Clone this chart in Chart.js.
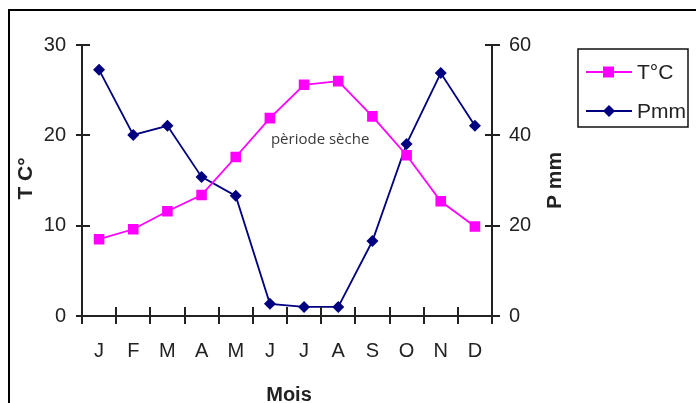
<!DOCTYPE html>
<html><head><meta charset="utf-8">
<script src="https://cdn.jsdelivr.net/npm/chart.js@4/dist/chart.umd.min.js"></script>
<style>html,body{margin:0;padding:0;background:#fff;overflow:hidden}#wrap{width:696px;height:403px;position:relative}</style>
</head><body><div id="wrap"><canvas id="c" width="696" height="403"></canvas></div>
<script>
const months = ['J','F','M','A','M','J','J','A','S','O','N','D'];
const temperature = [8.5, 9.6, 11.6, 13.4, 17.6, 21.9, 25.6, 26.0, 22.1, 17.8, 12.7, 9.9];
const precipitation = [54.5, 40.1, 42.1, 30.8, 26.6, 2.7, 2.0, 2.0, 16.6, 38.1, 53.8, 42.1];
const tempTicks = [0, 10, 20, 30];
const precTicks = [0, 20, 40, 60];
const seriesNames = ['T°C', 'Pmm'];
const axisTitles = {left: 'T C°', right: 'P mm', bottom: 'Mois'};
const note = 'pèriode sèche';

const PINK = '#ff00ff', NAVY = '#000080', INK = '#222222';
const tickFont = {family: 'Arial, "Liberation Sans", sans-serif', size: 20};

const decor = {
  id: 'decor',
  beforeDraw(chart) {
    const ctx = chart.ctx;
    ctx.save(); ctx.fillStyle = '#fff'; ctx.fillRect(0, 0, chart.width, chart.height); ctx.restore();
  },
  afterDraw(chart) {
    const ctx = chart.ctx, xs = chart.scales.x, yl = chart.scales.y, yr = chart.scales.y1;
    const ca = chart.chartArea;
    ctx.save();
    // outer frame
    ctx.strokeStyle = '#000'; ctx.lineWidth = 2;
    ctx.beginPath(); ctx.moveTo(9, 410); ctx.lineTo(9, 10); ctx.lineTo(700, 10); ctx.stroke();
    // tick marks
    ctx.strokeStyle = INK; ctx.lineWidth = 2;
    ctx.beginPath();
    for (let i = 0; i <= months.length; i++) {
      const px = Math.round(xs.getPixelForValue(i - 0.5));
      ctx.moveTo(px, ca.bottom - 9); ctx.lineTo(px, ca.bottom + 8);
    }
    tempTicks.forEach(v => { const py = Math.round(yl.getPixelForValue(v)); ctx.moveTo(ca.left - 6, py); ctx.lineTo(ca.left + 8, py); });
    precTicks.forEach(v => { const py = Math.round(yr.getPixelForValue(v)); ctx.moveTo(ca.right - 7, py); ctx.lineTo(ca.right + 8, py); });
    ctx.stroke();
    // axis titles
    ctx.fillStyle = INK;
    ctx.font = 'bold 21px Arial, "Liberation Sans", sans-serif';
    ctx.textAlign = 'center'; ctx.textBaseline = 'middle';
    const midY = (ca.top + ca.bottom) / 2;
    ctx.save(); ctx.translate(26, midY - 2); ctx.rotate(-Math.PI / 2); ctx.fillText(axisTitles.left, 0, 0); ctx.restore();
    ctx.save(); ctx.translate(555, midY); ctx.rotate(-Math.PI / 2); ctx.fillText(axisTitles.right, 0, 0); ctx.restore();
    ctx.font = 'bold 20px Arial, "Liberation Sans", sans-serif';
    ctx.fillText(axisTitles.bottom, (ca.left + ca.right) / 2 + 2, 395);
    // annotation
    ctx.font = '15px "Open Sans", sans-serif'; ctx.fillStyle = '#3a3a3a';
    ctx.fillText(note, xs.getPixelForValue(6.47), yl.getPixelForValue(19.5));
    // legend
    ctx.strokeStyle = '#111'; ctx.lineWidth = 1.5;
    ctx.strokeRect(578, 49, 110, 78);
    const items = [{c: PINK, s: 'rect', y: 72}, {c: NAVY, s: 'rectRot', y: 111}];
    items.forEach((it, i) => {
      ctx.strokeStyle = it.c; ctx.lineWidth = 1.8;
      ctx.beginPath(); ctx.moveTo(586, it.y); ctx.lineTo(632, it.y); ctx.stroke();
      ctx.fillStyle = it.c;
      if (it.s === 'rect') ctx.fillRect(603, it.y - 5.5, 11, 11);
      else { ctx.beginPath(); ctx.moveTo(609, it.y - 6); ctx.lineTo(615, it.y); ctx.lineTo(609, it.y + 6); ctx.lineTo(603, it.y); ctx.closePath(); ctx.fill(); }
      ctx.fillStyle = INK; ctx.font = '21px Arial, "Liberation Sans", sans-serif';
      ctx.textAlign = 'left'; ctx.textBaseline = 'middle';
      ctx.fillText(seriesNames[i], 637, it.y + 1);
    });
    ctx.restore();
  }
};

new Chart(document.getElementById('c'), {
  type: 'line',
  data: {
    labels: months,
    datasets: [
      {label: seriesNames[0], data: temperature, yAxisID: 'y', borderColor: PINK, backgroundColor: PINK,
       borderWidth: 1.8, pointStyle: 'rect', pointRadius: 7.5, pointBorderWidth: 0, tension: 0},
      {label: seriesNames[1], data: precipitation, yAxisID: 'y1', borderColor: NAVY, backgroundColor: NAVY,
       borderWidth: 1.8, pointStyle: 'rectRot', pointRadius: 6, pointBorderWidth: 0, tension: 0}
    ]
  },
  options: {
    responsive: false, animation: false, devicePixelRatio: 1,
    layout: {padding: {top: 45, left: 0, right: 0, bottom: 0}},
    plugins: {legend: {display: false}, tooltip: {enabled: false}},
    scales: {
      x: {
        grid: {display: false}, offset: true,
        border: {display: true, color: INK, width: 2},
        ticks: {font: tickFont, color: INK, padding: 15, maxRotation: 0, autoSkip: false},
        afterFit(s) { s.height = 87; }
      },
      y: {
        position: 'left', min: 0, max: 30,
        grid: {display: false},
        border: {display: true, color: INK, width: 2},
        ticks: {font: tickFont, color: INK, padding: 8},
        afterBuildTicks(s) { s.ticks = tempTicks.map(v => ({value: v})); },
        afterFit(s) { s.width = 82; }
      },
      y1: {
        position: 'right', min: 0, max: 60,
        grid: {display: false},
        border: {display: true, color: INK, width: 2},
        ticks: {font: tickFont, color: INK, padding: 9},
        afterBuildTicks(s) { s.ticks = precTicks.map(v => ({value: v})); },
        afterFit(s) { s.width = 204; }
      }
    }
  },
  plugins: [decor]
});
</script></body></html>
